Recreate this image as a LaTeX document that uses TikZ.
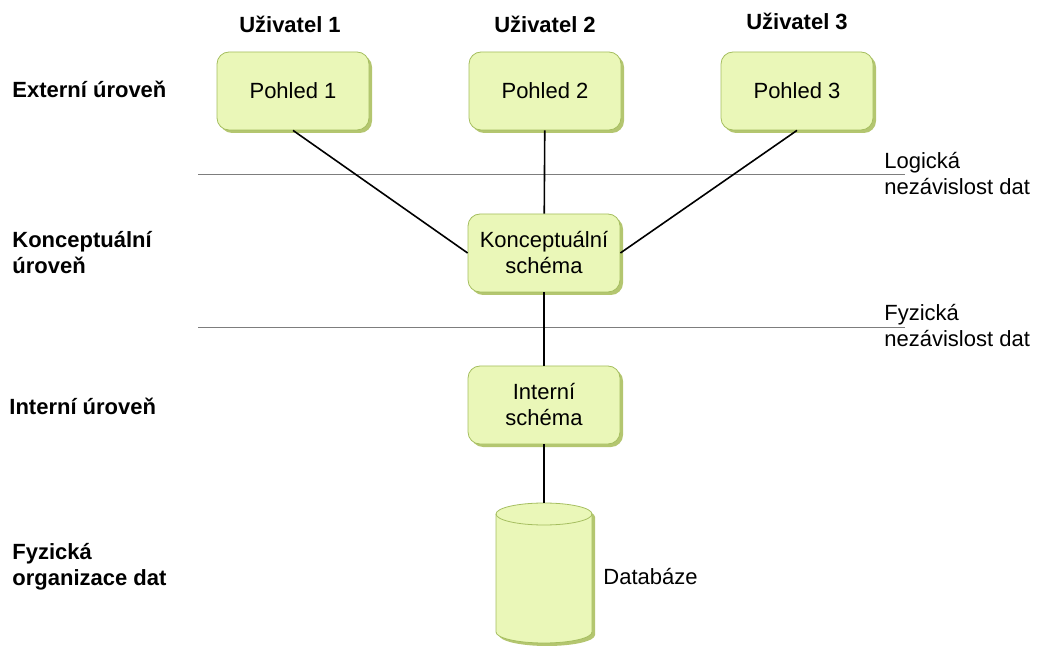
\documentclass[tikz,border=0pt]{standalone}
\usepackage{fontspec}
\setmainfont{Liberation Sans}
\usetikzlibrary{shadows}
\definecolor{boxfill}{RGB}{234,247,184}
\definecolor{boxline}{RGB}{165,190,95}
\definecolor{boxshade}{RGB}{180,198,112}
\definecolor{levelgray}{RGB}{125,125,125}
\begin{document}
\begin{tikzpicture}[x=0.5pt, y=-0.5pt, font=\fontsize{11}{13}\selectfont,
  schema node/.style={rectangle, rounded corners=6pt, draw=boxline, fill=boxfill, align=center,
    minimum width=76pt, minimum height=39pt, inner sep=2pt,
    drop shadow={shadow xshift=1.5pt, shadow yshift=-1.5pt, fill=boxshade, opacity=1}},
  level label/.style={font=\fontsize{11}{13}\selectfont\bfseries, align=left, anchor=west, inner sep=0pt},
  user label/.style={font=\fontsize{11}{13}\selectfont\bfseries, inner sep=0pt},
  side label/.style={align=left, anchor=west, inner sep=0pt},
  level line/.style={draw=levelgray, line width=0.5pt},
  link/.style={draw=black, line width=0.8pt}]
\useasboundingbox (0,0) rectangle (1038,646);
% schemata
\node[schema node] (p1) at (293,91) {Pohled 1};
\node[schema node] (p2) at (545,91) {Pohled 2};
\node[schema node] (p3) at (797,91) {Pohled 3};
\node[schema node] (konc) at (544,253) {Konceptuální\\schéma};
\node[schema node] (int) at (544,405) {Interní\\schéma};
% databaze (valec)
\fill[boxshade] (499,517) -- (499,635) arc[start angle=180, end angle=0, x radius=48, y radius=11]
  -- (595,517) arc[start angle=0, end angle=-180, x radius=48, y radius=11] -- cycle;
\draw[boxline, fill=boxfill] (496,514) -- (496,632) arc[start angle=180, end angle=0, x radius=48, y radius=11]
  -- (592,514) arc[start angle=0, end angle=-180, x radius=48, y radius=11] -- cycle;
\draw[boxline] (496,514) arc[start angle=180, end angle=0, x radius=48, y radius=11];
\coordinate (db) at (544,503);
% uzivatele a urovne
\node[user label] (u1) at (290,24) {Uživatel 1};
\node[user label] (u2) at (545,24) {Uživatel 2};
\node[user label] (u3) at (797,21) {Uživatel 3};
\node[level label] (ext) at (12,89) {Externí úroveň};
\node[level label] (kon) at (12,253) {Konceptuální\\úroveň};
\node[level label] (intu) at (9,406) {Interní úroveň};
\node[level label] (fyz) at (12,567) {Fyzická\\organizace dat};
\node[side label] (log) at (884,174) {Logická\\nezávislost dat};
\node[side label] (fyzn) at (884,326) {Fyzická\\nezávislost dat};
\node[side label] (dbl) at (603,577) {Databáze};
% hranice urovni
\draw[level line] (198,175) -- (905,175);
\draw[level line] (198,328) -- (905,328);
% spojnice
\draw[link] (p1.south) -- (konc.west);
\draw[link] (p2) -- (konc);
\draw[link] (p3.south) -- (konc.east);
\draw[link] (konc) -- (int);
\draw[link] (int) -- (db);
\end{tikzpicture}
\end{document}
